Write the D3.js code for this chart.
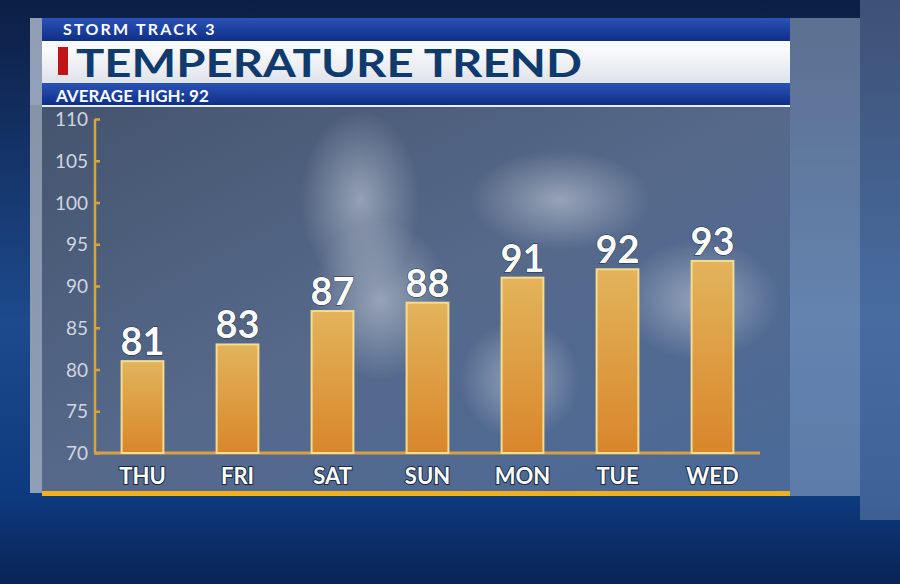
<!DOCTYPE html>
<html><head><meta charset="utf-8">
<script src="https://cdn.jsdelivr.net/npm/d3@7"></script>
<style>body{margin:0;background:#0a1f4a;overflow:hidden}</style>
</head><body>
<svg id="c" width="900" height="584"></svg>
<script>
const days = ["THU","FRI","SAT","SUN","MON","TUE","WED"];
const highs = [81,83,87,88,91,92,93];
const yTicks = [70,75,80,85,90,95,100,105,110];
const title = "TEMPERATURE TREND";
const kicker = "STORM TRACK 3";
const subtitle = "AVERAGE HIGH: 92";

const svg = d3.select("#c");
const defs = svg.append("defs");
const bg = defs.append("linearGradient").attr("id","bg").attr("x1",0).attr("y1",0).attr("x2",0).attr("y2",1);
bg.append("stop").attr("offset",0).attr("stop-color","#0c1e45");
bg.append("stop").attr("offset",0.55).attr("stop-color","#1d4a8c");
bg.append("stop").attr("offset",0.85).attr("stop-color","#0d3a7e");
bg.append("stop").attr("offset",1).attr("stop-color","#0a2356");
const pg = defs.append("linearGradient").attr("id","pg").attr("x1",0).attr("y1",0).attr("x2",1).attr("y2",1);
pg.append("stop").attr("offset",0).attr("stop-color","#44546e");
pg.append("stop").attr("offset",0.5).attr("stop-color","#56698a");
pg.append("stop").attr("offset",1).attr("stop-color","#4a6a98");
const bar = defs.append("linearGradient").attr("id","bar").attr("x1",0).attr("y1",0).attr("x2",0).attr("y2",1);
bar.append("stop").attr("offset",0).attr("stop-color","#e2b45c");
bar.append("stop").attr("offset",1).attr("stop-color","#d9862a");
const hb = defs.append("linearGradient").attr("id","hb").attr("x1",0).attr("y1",0).attr("x2",0).attr("y2",1);
hb.append("stop").attr("offset",0).attr("stop-color","#2a52b8");
hb.append("stop").attr("offset",1).attr("stop-color","#0f2f86");
const wb = defs.append("linearGradient").attr("id","wb").attr("x1",0).attr("y1",0).attr("x2",0).attr("y2",1);
wb.append("stop").attr("offset",0).attr("stop-color","#ffffff");
wb.append("stop").attr("offset",1).attr("stop-color","#dfe3ea");
const cl = defs.append("radialGradient").attr("id","cl");
cl.append("stop").attr("offset",0).attr("stop-color","#d8dde6").attr("stop-opacity",0.5);
cl.append("stop").attr("offset",1).attr("stop-color","#d8dde6").attr("stop-opacity",0);

svg.append("rect").attr("width",900).attr("height",584).attr("fill","url(#bg)");
svg.append("rect").attr("x",790).attr("y",18).attr("width",70).attr("height",478).attr("fill","#9fb2cc").attr("opacity",0.55);
svg.append("rect").attr("x",860).attr("y",0).attr("width",40).attr("height",520).attr("fill","#8aa0c0").attr("opacity",0.4);
svg.append("rect").attr("x",30).attr("y",105).attr("width",760).attr("height",388).attr("fill","url(#pg)");
[[360,200,60,90],[380,300,70,80],[560,200,90,50],[520,380,60,60],[700,300,80,60]].forEach(c=>
  svg.append("ellipse").attr("cx",c[0]).attr("cy",c[1]).attr("rx",c[2]).attr("ry",c[3]).attr("fill","url(#cl)"));
svg.append("rect").attr("x",30).attr("y",105).attr("width",12).attr("height",388).attr("fill","#c9d3e2").attr("opacity",0.5);
svg.append("rect").attr("x",42).attr("y",491).attr("width",748).attr("height",5).attr("fill","#f0b020");
svg.append("rect").attr("x",42).attr("y",18).attr("width",748).attr("height",23).attr("fill","url(#hb)");
svg.append("rect").attr("x",42).attr("y",41).attr("width",748).attr("height",42).attr("fill","url(#wb)");
svg.append("rect").attr("x",42).attr("y",83).attr("width",748).attr("height",22).attr("fill","url(#hb)");
svg.append("rect").attr("x",42).attr("y",105).attr("width",748).attr("height",2).attr("fill","#e8eef8");
svg.append("rect").attr("x",30).attr("y",18).attr("width",12).attr("height",87).attr("fill","#c9d3e2").attr("opacity",0.7);
svg.append("text").attr("x",63).attr("y",35).attr("fill","#fff").attr("font-family","Lato").attr("font-weight",700)
  .attr("font-size",16).attr("letter-spacing",2.2).text(kicker);
svg.append("rect").attr("x",58).attr("y",47).attr("width",10).attr("height",28).attr("fill","#c0141a");
svg.append("text").attr("x",76).attr("y",77).attr("fill","#0f3a6e").attr("font-family","Lato").attr("font-weight",700)
  .attr("font-size",38).attr("textLength",506).attr("lengthAdjust","spacingAndGlyphs").text(title);
svg.append("text").attr("x",56).attr("y",102).attr("fill","#fff").attr("font-family","Lato").attr("font-weight",700)
  .attr("font-size",17).text(subtitle);

const x = d3.scaleBand().domain(days).range([95,760]).paddingInner(0.56).paddingOuter(0.28);
const y = d3.scaleLinear().domain([70,110]).range([453,119]);
const g = svg.append("g");
const ax = g.append("g").attr("transform","translate(95,0)").call(d3.axisLeft(y).tickValues(yTicks).tickSize(-5).tickPadding(5));
ax.select(".domain").remove();
ax.selectAll("line").attr("stroke","#d4a640").attr("stroke-width",2.5);
ax.selectAll("text").attr("fill","#d0d6e0").attr("font-family","Lato").attr("font-size",19).attr("dx",-2).attr("dy","0.35em").attr("y",0);
g.append("line").attr("x1",95).attr("x2",95).attr("y1",119).attr("y2",453).attr("stroke","#d4a640").attr("stroke-width",2.5);
g.append("line").attr("x1",94).attr("x2",760).attr("y1",453).attr("y2",453).attr("stroke","#d7a048").attr("stroke-width",3);

g.selectAll(".b").data(highs).join("rect").attr("x",(d,i)=>x(days[i])).attr("width",x.bandwidth())
  .attr("y",d=>y(d)).attr("height",d=>y(70)-y(d)).attr("fill","url(#bar)")
  .attr("stroke","#f5dc90").attr("stroke-width",2);
g.selectAll(".v").data(highs).join("text").attr("x",(d,i)=>x(days[i])+x.bandwidth()/2).attr("y",d=>y(d)-6)
  .attr("text-anchor","middle").attr("fill","#fff").attr("font-family","Lato").attr("font-weight",700)
  .attr("font-size",38).attr("stroke","#1a2a44").attr("stroke-width",1).attr("paint-order","stroke").text(d=>d);
g.selectAll(".d").data(days).join("text").attr("x",d=>x(d)+x.bandwidth()/2).attr("y",484)
  .attr("text-anchor","middle").attr("fill","#fff").attr("font-family","Lato").attr("font-weight",700)
  .attr("font-size",22).attr("stroke","#1a2a44").attr("stroke-width",2).attr("paint-order","stroke").text(d=>d);
</script></body></html>
